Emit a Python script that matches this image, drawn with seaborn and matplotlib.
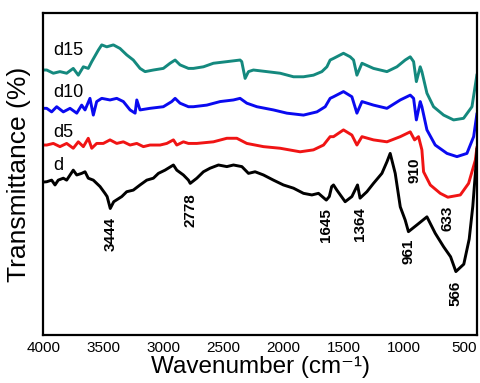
import matplotlib
matplotlib.use("Agg")
import matplotlib.pyplot as plt
import numpy as np
import pandas as pd
import seaborn as sns

# FTIR spectra (wavenumber in cm-1, transmittance in arbitrary offset units)
wn_d = [4000, 3973, 3932, 3904, 3877, 3835, 3807, 3752, 3723, 3682, 3654, 3627,
        3585, 3529, 3488, 3470, 3444, 3415, 3348, 3307, 3252, 3196, 3140, 3085,
        3043, 2988, 2918, 2890, 2835, 2793, 2778, 2723, 2668, 2613, 2543, 2473,
        2418, 2348, 2293, 2238, 2168, 2085, 2002, 1918, 1835, 1765, 1710, 1645,
        1620, 1600, 1585, 1557, 1488, 1432, 1385, 1364, 1307, 1252, 1182, 1140,
        1113, 1071, 1029, 988, 961, 890, 807, 738, 668, 610, 566, 500, 455,
        425, 400, 390]
t_d = [47.5, 47.6, 48.1, 46.6, 48.1, 48.7, 48.1, 51.2, 49.7, 50.2, 50.7, 48.7,
       48.1, 46.1, 44.0, 43.0, 39.3, 41.4, 43.0, 44.5, 45.0, 46.6, 48.1, 48.7,
       50.2, 51.2, 52.8, 51.2, 49.7, 48.1, 47.1, 48.7, 50.7, 51.8, 52.8, 52.3,
       52.8, 52.3, 50.2, 50.7, 49.7, 48.1, 46.6, 45.6, 44.0, 43.5, 44.0, 41.9,
       43.0, 46.1, 46.6, 45.0, 41.4, 43.0, 46.6, 42.5, 44.5, 47.1, 50.2, 53.8,
       56.4, 50.2, 39.8, 35.7, 32.1, 34.2, 36.7, 31.6, 27.4, 24.3, 19.7, 22.0, 29.8,
       40.0, 52.0, 58.0]

wn_d5 = [4000, 3973, 3918, 3863, 3807, 3752, 3710, 3668, 3627, 3598, 3557, 3502,
         3446, 3390, 3335, 3279, 3223, 3168, 3113, 3029, 2973, 2918, 2890, 2835,
         2793, 2723, 2585, 2473, 2390, 2307, 2168, 2029, 1863, 1752, 1668, 1613,
         1585, 1502, 1432, 1390, 1348, 1252, 1140, 1029, 946, 910, 877, 849, 835,
         779, 696, 633, 529, 460, 404, 390]
t_d5 = [59.0, 59.0, 59.5, 58.5, 59.5, 58.0, 60.0, 58.5, 61.1, 58.0, 59.5, 59.5,
        60.6, 59.5, 60.0, 59.0, 59.5, 58.5, 59.0, 59.0, 59.5, 60.6, 59.0, 60.0,
        59.5, 59.5, 60.0, 61.1, 61.1, 59.5, 58.5, 58.0, 56.9, 57.5, 59.0, 61.6,
        61.6, 63.7, 62.1, 59.0, 61.6, 60.6, 60.0, 61.6, 63.1, 60.6, 61.6, 57.5, 50.7,
        46.6, 44.0, 42.8, 43.5, 47.1, 54.3, 58.5]

wn_d10 = [4000, 3973, 3932, 3890, 3835, 3779, 3723, 3682, 3654, 3613, 3585, 3557,
          3515, 3446, 3390, 3335, 3279, 3237, 3223, 3196, 3113, 3002, 2932, 2904,
          2863, 2793, 2752, 2640, 2529, 2418, 2363, 2307, 2223, 2085, 1973, 1835,
          1723, 1654, 1613, 1585, 1502, 1432, 1390, 1348, 1252, 1140, 1029, 946,
          918, 895, 863, 849, 807, 738, 640, 557, 474, 418, 390]
t_d10 = [70.4, 70.4, 69.3, 70.9, 69.3, 70.4, 68.9, 71.4, 69.9, 73.5, 68.3, 72.5,
         73.5, 73.0, 73.5, 72.5, 69.9, 68.9, 73.0, 69.9, 70.4, 70.9, 72.5, 73.5,
         72.0, 70.9, 70.9, 71.4, 72.5, 73.0, 73.5, 72.0, 70.9, 69.9, 68.9, 68.3,
         69.3, 70.9, 73.5, 74.0, 75.6, 74.0, 68.9, 72.5, 71.4, 70.4, 73.0, 74.5,
         73.5, 66.8, 72.5, 70.9, 63.7, 59.0, 56.4, 55.4, 56.4, 61.6, 68.9]

wn_d15 = [4000, 3973, 3918, 3863, 3807, 3752, 3710, 3668, 3627, 3598, 3543, 3515,
          3473, 3418, 3363, 3307, 3252, 3196, 3154, 3085, 3002, 2946, 2904, 2863,
          2793, 2752, 2668, 2585, 2473, 2363, 2349, 2321, 2293, 2252, 2140, 2029,
          1918, 1835, 1752, 1682, 1640, 1613, 1585, 1502, 1446, 1418, 1390, 1348,
          1252, 1140, 1057, 988, 946, 918, 895, 863, 849, 807, 752, 668, 585, 502,
          432, 390]
t_d15 = [82.3, 82.3, 81.3, 81.8, 81.3, 82.8, 80.7, 83.3, 82.8, 84.9, 88.5, 90.1,
         89.5, 90.1, 89.0, 87.0, 85.4, 82.8, 81.8, 82.3, 82.8, 84.4, 85.4, 83.9,
         82.8, 82.8, 83.3, 84.4, 84.9, 85.4, 84.9, 79.7, 81.8, 82.3, 81.8, 81.3,
         80.2, 80.2, 80.7, 81.8, 83.3, 85.4, 85.9, 87.5, 86.4, 85.4, 80.7, 84.4,
         82.8, 81.8, 83.3, 85.4, 86.4, 84.9, 78.7, 83.3, 81.8, 75.1, 70.9, 68.3,
         66.8, 67.3, 70.9, 81.0]

series_names = ["d15", "d10", "d5", "d"]
series_colors = ["#14897e", "#0a0af0", "#f01414", "#000000"]

# Band assignments marked on the plot
band_wn = [3444, 2778, 1645, 1364, 961, 566, 910, 633]
band_label_y = [31.4, 38.8, 34.2, 34.5, 26.1, 13.0, 51.2, 36.3]

frames = []
for name, wn, t in [("d15", wn_d15, t_d15), ("d10", wn_d10, t_d10),
                    ("d5", wn_d5, t_d5), ("d", wn_d, t_d)]:
    frames.append(pd.DataFrame({"wavenumber": wn, "transmittance": t, "sample": name}))
df = pd.concat(frames, ignore_index=True)

sns.set_theme(style="white")
plt.rcParams["font.family"] = ["Liberation Sans", "DejaVu Sans"]

fig = plt.figure(figsize=(4.81, 3.83), dpi=100)
ax = fig.add_axes([0.0904, 0.1253, 0.9013, 0.8407])

for name, color in zip(series_names, series_colors):
    sub = df[df["sample"] == name]
    sns.lineplot(data=sub, x="wavenumber", y="transmittance", color=color,
                 sort=False, lw=2.1, ax=ax, legend=False)

ax.set_xlim(4000, 390)
ax.set_ylim(0, 100)
ax.set_xticks([4000, 3500, 3000, 2500, 2000, 1500, 1000, 500])
ax.set_yticks([])
ax.tick_params(axis="x", length=0, pad=4, labelsize=11, colors="black")
for s in ax.spines.values():
    s.set_color("black")
    s.set_linewidth(1.6)

ax.set_xlabel("Wavenumber (cm\u207b\u00b9)", fontsize=17.5, labelpad=1, color="black")
ax.set_ylabel("Transmittance (%)", fontsize=19, labelpad=9, color="black")

# Sample names at the left end of each trace
name_y = [88.5, 75.2, 63.0, 52.8]
for name, y in zip(series_names, name_y):
    ax.text(3920, y, name, fontsize=13, ha="left", va="center", color="black")

for w, y in zip(band_wn, band_label_y):
    ax.text(w, y, str(w), rotation=90, ha="center", va="center",
            fontsize=11, fontweight="bold", color="black")

fig.savefig("out.png", dpi=100)
